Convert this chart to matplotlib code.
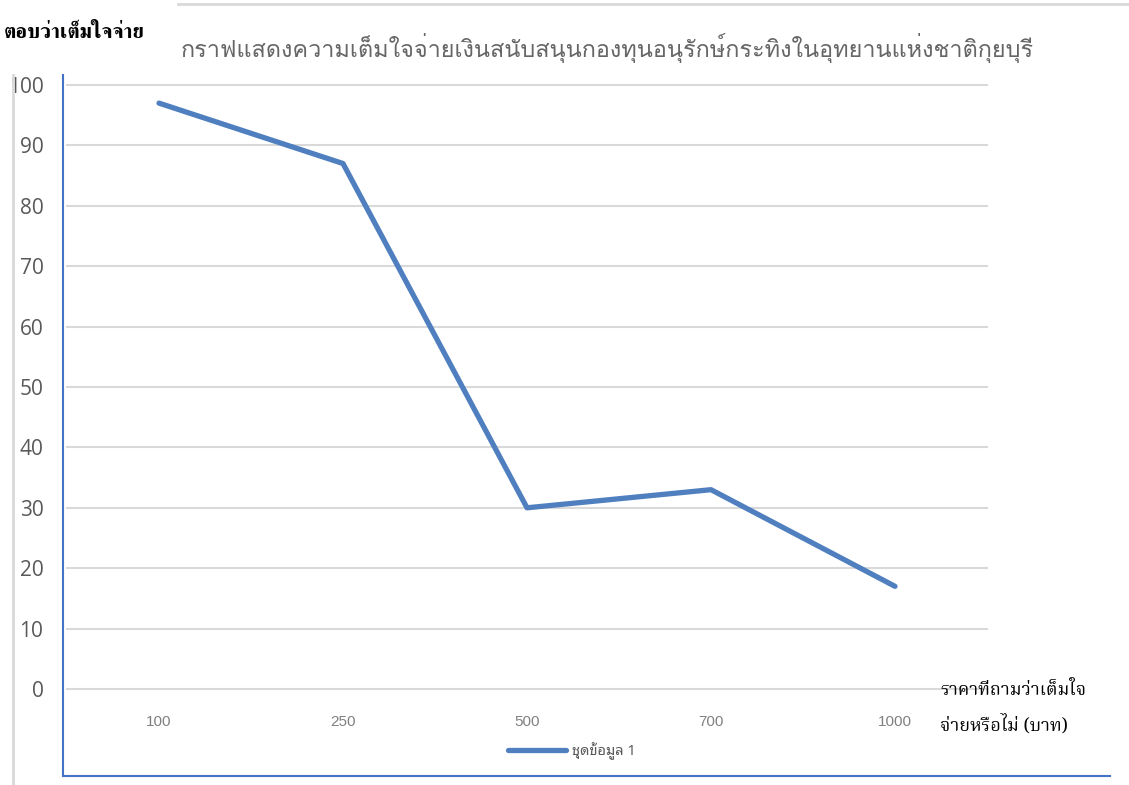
import matplotlib
matplotlib.use("Agg")
import matplotlib.pyplot as plt
from matplotlib.lines import Line2D
from matplotlib.patches import Rectangle

# data
prices = ["100", "250", "500", "700", "1000"]
willing_pct = [97, 87, 30, 33, 17]
series_name = "ชุดข้อมูล 1"
title = "กราฟแสดงความเต็มใจจ่ายเงินสนับสนุนกองทุนอนุรักษ์กระทิงในอุทยานแห่งชาติกุยบุรี"
y_label = "ตอบว่าเต็มใจจ่าย"
x_label = "ราคาที่ถามว่าเต็มใจ\nจ่ายหรือไม่ (บาท)"

W, H = 1129, 785
def fx(px):
    return px / W
def fy(py):
    return 1 - py / H

thai_sans = ["Noto Sans Thai Looped", "Noto Sans Thai", "DejaVu Sans"]
thai_title = ["Loma", "Noto Sans Thai Looped", "DejaVu Sans"]
thai_serif = ["Noto Serif Thai", "FreeSerif", "DejaVu Serif"]
thai_serif_bold = ["FreeSerif", "Noto Serif Thai", "DejaVu Serif"]

fig = plt.figure(figsize=(11.29, 7.85), dpi=100)
ax = fig.add_axes([fx(67), fy(689), fx(987) - fx(67), fy(85) - fy(689)])

x = list(range(len(prices)))
ax.plot(x, willing_pct, color="#4f7fbf", lw=3.8, solid_capstyle="round",
        solid_joinstyle="round", label=series_name, zorder=3)
ax.set_xlim(-0.5, 4.5)
ax.set_ylim(0, 100)
ax.set_yticks(range(0, 101, 10))
ax.set_xticks(x)
ax.set_xticklabels(prices)
ax.grid(axis="y", color="#d9d9d9", lw=1.5)
ax.grid(axis="x", visible=False)
ax.set_axisbelow(True)
for line in ax.get_ygridlines():
    line.set_clip_on(False)
for s in ax.spines.values():
    s.set_visible(False)
ax.tick_params(axis="y", length=0, pad=17, labelsize=15, labelcolor="#595959")
ax.tick_params(axis="x", length=0, pad=19, labelsize=11, labelcolor="#808080")
for lab in ax.get_yticklabels():
    lab.set_family(["Open Sans", "DejaVu Sans"])
for lab in ax.get_xticklabels():
    lab.set_family(["Liberation Sans", "DejaVu Sans"])

leg = ax.legend(loc="center left", bbox_to_anchor=(fx(508), fy(751)),
                bbox_transform=fig.transFigure, frameon=False, handlelength=4,
                handletextpad=0.4, borderpad=0, borderaxespad=0,
                prop={"family": thai_sans, "size": 10.5})
for t in leg.get_texts():
    t.set_color("#595959")

fig.text(fx(607), fy(48), title, ha="center", va="center", fontsize=16.9,
         color="#666666", family=thai_title)
fig.text(fx(4), fy(32), y_label, ha="left", va="center", fontsize=15,
         fontweight="bold", color="black", family=thai_serif_bold)
fig.text(fx(940), fy(708), x_label, ha="left", va="center", fontsize=13,
         color="black", family=thai_serif, linespacing=1.9)

# frame lines around the picture
fig.add_artist(Line2D([fx(63), fx(63)], [fy(75), fy(776)], color="#4472c4", lw=1.5))
fig.add_artist(Line2D([fx(63), fx(1110)], [fy(776), fy(776)], color="#4472c4", lw=1.5))
fig.add_artist(Line2D([fx(178), fx(1129)], [fy(4), fy(4)], color="#d9d9d9", lw=2))
fig.add_artist(Rectangle((0, 0), fx(12), fy(75), transform=fig.transFigure,
                         facecolor="white", edgecolor="none", zorder=5))
fig.add_artist(Line2D([fx(13), fx(13)], [fy(75), 0], color="#d9d9d9", lw=2, zorder=6))

fig.savefig("out.png", dpi=100)
